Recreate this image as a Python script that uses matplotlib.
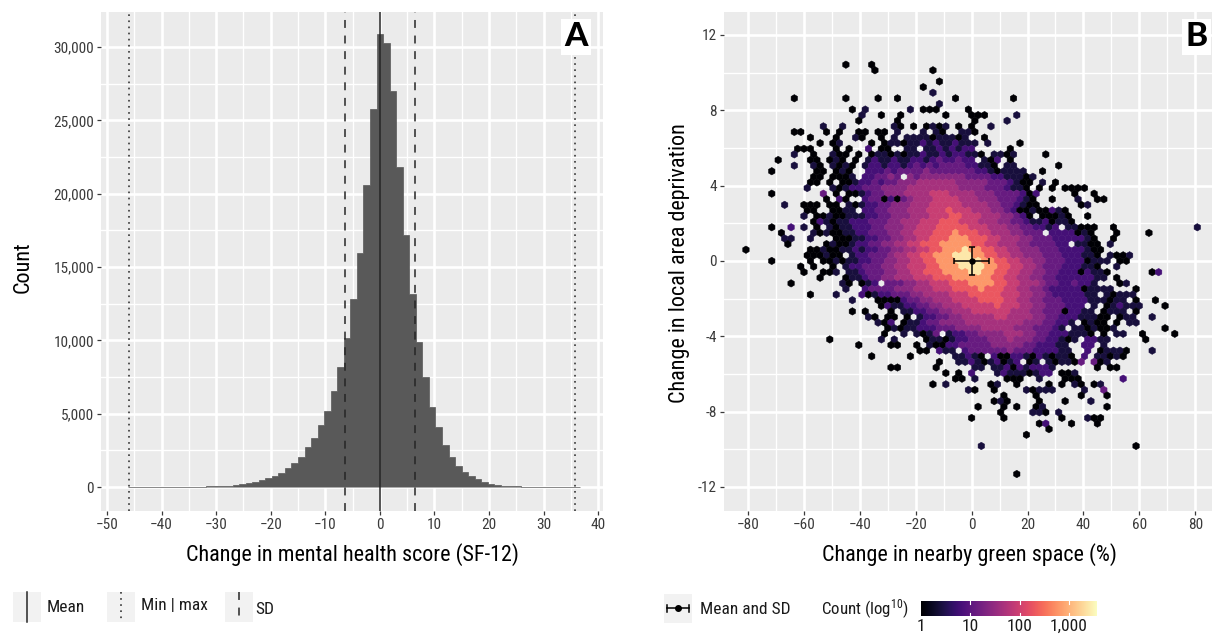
import matplotlib
matplotlib.use("Agg")
import matplotlib.pyplot as plt
import numpy as np
from matplotlib.collections import PolyCollection
from matplotlib.lines import Line2D
from matplotlib.patches import Rectangle
from matplotlib.ticker import FuncFormatter, MultipleLocator
import logging
logging.getLogger("matplotlib.font_manager").setLevel(logging.ERROR)

W, H = 1213, 637
NARROW = ["Roboto Condensed", "Liberation Sans Narrow", "Roboto"]
plt.rcParams["font.family"] = NARROW
plt.rcParams["mathtext.default"] = "regular"

# panel A, histogram of the change in SF-12, bins are 1.2 wide
bin_width = 1.2
bin_index = list(range(-38, 31))
bin_counts = [1, 1, 1, 1, 2, 3, 4, 5, 8, 10, 15, 25, 35, 50, 70, 100, 140, 190, 250, 340,
              480, 590, 750, 980, 1320, 1660, 2070, 2750, 3340, 4200, 5180, 6530, 8200,
              10160, 12820, 15980, 20590, 25770,
              30890,
              30250, 27030, 21840, 17180, 13140, 9910, 7480, 5480, 4070, 2840, 2045, 1430,
              1020, 750, 525, 340, 225, 160, 90, 60, 40, 25, 15, 10, 8, 5, 3, 2, 1, 1]
mh_mean = 0
mh_sd = 6.4
mh_min = -46
mh_max = 35.8

# panel B, hex cells. One string per hex row from the top, digit = colour level, "." = empty
hex_dx = 2.307
hex_dy = 0.2978
level_logs = [0, 0.4, 0.8, 1.1, 1.4, 1.65, 1.95, 2.3, 2.8, 3.4]
row_starts = [16, 20, 0, 30, 28, 29, 8, 30, 17, 18, 18, 12, 8, 10, 12, 8, 8, 5, 8, 4,
              11, 10, 10, 4, 13, 6, 10, 9, 11, 4, 6, 6, 7, 0, 10, 4, 9, 9, 12, 7,
              16, 10, 17, 21, 17, 19, 21, 22, 22, 13, 18, 27, 20, 30, 23, 31, 33, 29, 35, 40,
              39, 36, 40, 35, 46, 47, 44, 0, 37, 0, 0, 0, 0, 42]
row_levels = [
    "0...0",
    "0........0",
    "",
    "0",
    "0",
    "1",
    "0.......0....0..0........0........0",
    "1",
    "0.1......1.000....0",
    "1..0..0......0...000....1",
    "0.....0...........0....1",
    "1..1.......10.0.0101.0.0..1",
    "00...0.0..00.00.1...1.10..110",
    "0...0..10..0." + "1.1111011101..0",
    "0.01....0.0" + "11011212112111" + ".1....0",
    "000...0.0..2.00" + "..11." + "11212122" + ".....0",
    "1..0..100.0." + "011010112112122110" + ".1101" + "....0",
    "0....00.010.0." + "12112112212322322" + ".102.0",
    "1..10.1010." + "122122123232333322110.11" + "......0",
    "0......00.010.." + "2223233334333333322" + "101111" + "..0",
    "00.0001." + "223343." + "4344444443333221110" + "1",
    "00.0.0" + "0122323344455" + "5555444443332100" + ".1.0",
    "1...101" + "2233344445555" + "55554444333211" + "0.0.0.0000",
    "0.......3.0.00" + "123344455556" + "66555544433332" + "02.....0..0",
    "0.20.." + "233020" + "345556" + "66655544433321" + "0..0...1..00",
    "1..000.00." + "101223344455566" + "6665555443321" + "00......01",
    "00..0011." + "2233444555666" + "76665554432" + "00100210",
    "1.00100111" + "2233444555666" + "776665554432" + "0.00010..0",
    "02101122" + "23334455566677" + "76665554433" + "21120110",
    "0..2.1.0.101122" + "23344455666777" + "776665554433" + "2212.11000..0............1",
    "0....1010" + "01122" + "33344556667778" + "77766555443" + "33.2222010...0....0",
    "11..1...00" + "0112" + "23344556677788" + "877766555443" + "33222221" + "0..0",
    "0.....0100" + "122" + "334455667778888" + "87766555443" + "33322.1100.1",
    "0.........0010011212" + "233445566778889" + "887766554443" + "332222100",
    "000100.122" + "333455667788899" + "988776655444" + "33322211" + "0.1001",
    "0.....0.00101122" + "3344556677888999" + "98877665544" + "3332220111.00",
    "0.0..0.1223" + "3344556667788899" + "998877665543" + "33222110..1",
    "0..001.11233" + "3445566777888899" + "88776655443" + "322202110" + "......02",
    "0...01123" + "3445556667778888" + "88776655443" + "32222221" + "1.0",
    "0.......10.012." + "3334455666777888" + "87766555433" + "223221...01",
    "1..23" + "33344455566677778" + "77766554432" + "22220111" + "1...0",
    "0...1...2012" + "23334455556667777" + "7666554432" + "222211.10111",
    "1...0000" + "23344555666677" + "7766554433" + "32222111011.0..0",
    "0211" + "223344555666667" + "666554433" + "3222.1.012111...0",
    "0.0...0.112" + "233445556666" + "6655544333" + "02211.0111.0",
    "10.00.0.1" + "2233445555566" + "555544332" + "2211100.011..1",
    "102.011" + "23344445555555" + "55444332" + "21.0100.0.11",
    "010112" + "22333444455555" + "444333" + "21.1101001" + ".......0",
    "0..1.1013.12" + "23344445554433" + "2221110.0.11" + "..0....0",
    "0.......1.1....011012" + "23334445444332" + "2101.2211" + ".....0",
    "0....00..0.10022" + "33333444443322" + "211..22.1",
    "00.211.23" + "333334333222" + "211..2.01110...1",
    "0.....0......" + "11210.2002210210110" + ".2.11010",
    "0..1" + "121012012.01.101103.3" + "01",
    "00.....0.....11.11202" + "12221" + "......0.00",
    "0.0.2...121110122.001",
    "00.1....000..1...000......2",
    "0.1......01..0....0.0.10.01",
    "10..0....10111....1..3",
    "0....0......0...0",
    "010....0...0...1",
    "0...0.0..01.........0",
    "0....110.1",
    "0....0........0...100",
    "02...0...0",
    "0",
    "0",
    "",
    "1.......................0",
    "",
    "",
    "",
    "",
    "0",
]
gs_mean_x, gs_mean_y = 0, 0
gs_sd_x, gs_sd_y = 6.2, 0.75

count_ticks = [1, 10, 100, 1000]
count_labels = ["1", "10", "100", "1,000"]
count_max_log = 3.57

grey_panel = "#EBEBEB"
tick_col = "#3a3a3a"


def panel(left, right, top=12, bottom=511):
    ax = fig.add_axes([left / W, 1 - bottom / H, (right - left) / W, (bottom - top) / H])
    ax.set_facecolor(grey_panel)
    for s in ax.spines.values():
        s.set_visible(False)
    ax.grid(True, which="major", color="white", lw=1.9, zorder=0)
    ax.grid(True, which="minor", color="white", lw=0.95, zorder=0)
    ax.set_axisbelow(True)
    ax.tick_params(which="major", length=3, width=0.9, color=tick_col, labelcolor=tick_col, labelsize=11, pad=2)
    ax.tick_params(which="minor", length=0)
    return ax


def tag(ax, x, y, s):
    ax.text(x, y, s, transform=ax.transAxes, ha="center", va="center", fontsize=24, fontweight="black",
            family=["Lato", "DejaVu Sans"], color="black", zorder=6,
            bbox=dict(facecolor="white", edgecolor="none", pad=2.5))


def key_box(x0, x1, y0, y1):
    fig.add_artist(Rectangle((x0 / W, 1 - y1 / H), (x1 - x0) / W, (y1 - y0) / H, transform=fig.transFigure,
                             facecolor="#F2F2F2", edgecolor="none"))


def key_line(x0, y0, x1, y1, **kw):
    fig.add_artist(Line2D([x0 / W, x1 / W], [1 - y0 / H, 1 - y1 / H], transform=fig.transFigure, **kw))


def ptext(x, y, s, **kw):
    fig.text(x / W, 1 - y / H, s, va="center", fontsize=kw.pop("fontsize", 12.5), color=kw.pop("color", "#1a1a1a"), **kw)


fig = plt.figure(figsize=(W / 100, H / 100), dpi=100)

solid = dict(color="#262626", lw=1.1, ls="-")
dashed = dict(color="#262626", lw=1.1, ls=(0, (5.2, 5)))
dotted = dict(color="#262626", lw=1.1, ls=(0, (1.1, 2.9)))

# panel A
ax1 = panel(101, 603)
bin_edges = (np.arange(bin_index[0], bin_index[-1] + 2) - 0.5) * bin_width
ax1.stairs(bin_counts, bin_edges, fill=True, facecolor="#595959", edgecolor="#595959", linewidth=0.5, zorder=2)
ax1.axvline(mh_mean, zorder=3, **solid)
ax1.axvline(mh_mean - mh_sd, zorder=3, **dashed)
ax1.axvline(mh_mean + mh_sd, zorder=3, **dashed)
ax1.axvline(mh_min, zorder=3, **dotted)
ax1.axvline(mh_max, zorder=3, **dotted)
ax1.set_xlim(-51.1, 40.9)
ax1.set_ylim(-1636, 32386)
ax1.xaxis.set_major_locator(MultipleLocator(10))
ax1.xaxis.set_minor_locator(MultipleLocator(5))
ax1.yaxis.set_major_locator(MultipleLocator(5000))
ax1.yaxis.set_minor_locator(MultipleLocator(2500))
ax1.yaxis.set_major_formatter(FuncFormatter(lambda v, p: f"{int(v):,}"))
ax1.set_xlabel("Change in mental health score (SF-12)", fontsize=15.9)
ax1.set_ylabel("Count", fontsize=15.9)
ax1.xaxis.set_label_coords(0.5, -0.064)
ax1.yaxis.set_label_coords(-0.135, 0.489)
tag(ax1, 0.946, 0.95, "A")

# panel B
ax2 = panel(724, 1212)
centers, values = [], []
for r, (start, levels) in enumerate(zip(row_starts, row_levels)):
    for n, ch in enumerate(levels):
        if ch == ".":
            continue
        i = start + n
        centers.append(((i - 35 + 0.5 * ((r % 2) - 1)) * hex_dx, (35 - r) * hex_dy))
        values.append(level_logs[int(ch)])
side = hex_dy / 1.5
unit = np.array([[0, side], [hex_dx / 2, side / 2], [hex_dx / 2, -side / 2],
                 [0, -side], [-hex_dx / 2, -side / 2], [-hex_dx / 2, side / 2]])
verts = [unit + np.array(c) for c in centers]
hexes = PolyCollection(verts, array=np.array(values), cmap="magma", clim=(0, count_max_log),
                       edgecolor="face", linewidth=0.35, zorder=2)
ax2.add_collection(hexes)
ax2.errorbar([gs_mean_x], [gs_mean_y], xerr=[gs_sd_x], yerr=[gs_sd_y], fmt="o", color="black", ms=3.6,
             elinewidth=1.1, capsize=2.4, capthick=1.1, zorder=4)
ax2.set_xlim(-88.6, 86)
ax2.set_ylim(-13.28, 13.22)
ax2.xaxis.set_major_locator(MultipleLocator(20))
ax2.xaxis.set_minor_locator(MultipleLocator(10))
ax2.yaxis.set_major_locator(MultipleLocator(4))
ax2.yaxis.set_minor_locator(MultipleLocator(2))
ax2.yaxis.set_major_formatter(FuncFormatter(lambda v, p: f"{int(v)}"))
ax2.set_xlabel("Change in nearby green space (%)", fontsize=15.9)
ax2.set_ylabel("Change in local area deprivation", fontsize=15.9)
ax2.xaxis.set_label_coords(0.503, -0.064)
ax2.yaxis.set_label_coords(-0.069, 0.497)
tag(ax2, 0.969, 0.95, "B")

# legends along the bottom
key_box(13, 41, 592, 622)
key_line(27, 592, 27, 622, **solid)
ptext(47, 608, "Mean")
key_box(107, 135, 592, 622)
key_line(121, 592, 121, 622, **dotted)
ptext(141, 606, "Min | max")
key_box(225, 253, 592, 622)
key_line(239, 592, 239, 622, **dashed)
ptext(255, 609, "SD")

key_box(664, 692, 594, 623)
key_line(667, 608, 689, 608, color="black", lw=1.1)
key_line(667, 604.5, 667, 611.5, color="black", lw=1.1)
key_line(689, 604.5, 689, 611.5, color="black", lw=1.1)
fig.add_artist(Line2D([678 / W], [1 - 608 / H], marker="o", ms=4, color="black", transform=fig.transFigure))
ptext(700, 609, "Mean and SD")
ptext(821, 609, "Count (log$^{10}$)", fontsize=12.2)

cax = fig.add_axes([921 / W, 1 - 616 / H, 176 / W, 15 / H])
cax.imshow(np.linspace(0, 1, 256)[None, :], aspect="auto", cmap="magma", extent=(0, count_max_log, 0, 1))
cax.set_yticks([])
tick_pos = np.log10(count_ticks)
cax.set_xticks(tick_pos)
cax.set_xticklabels(count_labels, fontsize=12.5, color="#1a1a1a")
cax.tick_params(axis="x", length=0, pad=2)
for s in cax.spines.values():
    s.set_visible(False)
for t in tick_pos[1:]:
    cax.plot([t, t], [0, 0.2], color="white", lw=0.8)
    cax.plot([t, t], [0.8, 1], color="white", lw=0.8)
cax.set_xlim(0, count_max_log)
cax.set_ylim(0, 1)

fig.savefig("out.png", dpi=100)
